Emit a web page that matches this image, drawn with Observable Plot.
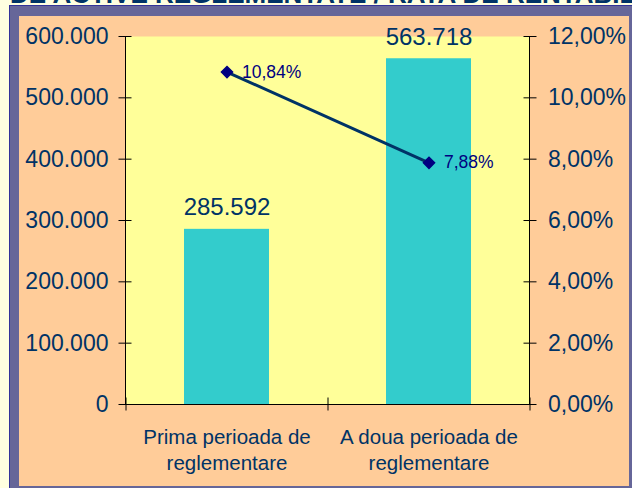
<!DOCTYPE html>
<html><head><meta charset="utf-8">
<script src="https://cdn.jsdelivr.net/npm/d3@7"></script>
<script src="https://cdn.jsdelivr.net/npm/@observablehq/plot@0.6"></script>
<style>
html,body{margin:0;padding:0;background:#FFFFE0;width:632px;height:488px;overflow:hidden;font-family:"Liberation Sans",Arial,sans-serif;}
#title{position:absolute;left:10px;top:-19px;font-size:26px;line-height:26px;font-weight:bold;color:#003366;white-space:nowrap;}
#frame{position:absolute;left:9px;top:5px;width:623px;height:483px;box-sizing:border-box;background:#666699;border-left:1px solid #333399;border-top:1px solid #333399;}
#chart{position:absolute;left:9px;top:10px;line-height:0;}
</style></head><body>
<div id="title">DE ACTIVE REGLEMENTATE / RATA DE RENTABILITATE</div>
<div id="frame"><div id="chart"></div></div>
<script>
const categories = ["Prima perioada de\nreglementare", "A doua perioada de\nreglementare"];
const assetValues = [285592, 563718];
const returnRates = [10.84, 7.88];
const leftTicks = [0, 100000, 200000, 300000, 400000, 500000, 600000];
const rightTicks = [0, 2, 4, 6, 8, 10, 12];
const leftMax = 600000, rightMax = 12;
const K = leftMax / rightMax;

const loc = d3.formatLocale({decimal: ",", thousands: ".", grouping: [3], currency: ["", ""]});
const fmtNum = loc.format(",");
const fmtPct = p => loc.format(".2f")(p) + "%";
const data = categories.map((c, i) => ({cat: c, value: assetValues[i], rate: returnRates[i]}));

const W = 610, H = 470, ML = 106, MR = 100, MT = 20, MB = 82;
const halfStep = (W - ML - MR) / categories.length / 2;
const navy = "#003366";

const chart = Plot.plot({
  width: W, height: H,
  marginLeft: ML, marginRight: MR, marginTop: MT, marginBottom: MB,
  style: {background: "#FFCC99", fontFamily: "'Liberation Sans', Arial, sans-serif", overflow: "visible"},
  x: {type: "band", domain: categories, paddingInner: 0.58, paddingOuter: 0.29, label: null},
  y: {domain: [0, leftMax], label: null},
  marks: [
    Plot.frame({fill: "#FFFF99", stroke: "none"}),
    Plot.barY(data, {x: "cat", y: "value", fill: "#33CCCC"}),
    Plot.text(data, {x: "cat", y: "value", text: d => fmtNum(d.value), lineAnchor: "bottom", dy: -14, fontSize: 24, fill: navy}),
    Plot.ruleY([0], {stroke: "black"}),
    Plot.frame({anchor: "left", stroke: "black"}),
    Plot.frame({anchor: "right", stroke: "black"}),
    Plot.line(data, {x: "cat", y: d => d.rate * K, stroke: navy, strokeWidth: 3}),
    Plot.dot(data, {x: "cat", y: d => d.rate * K, symbol: "diamond2", r: 5, fill: "#000080", stroke: "#000080"}),
    Plot.text(data, {x: "cat", y: d => d.rate * K, text: d => fmtPct(d.rate), textAnchor: "start", dx: 15, fontSize: 17.5, fill: "#000080"}),
    Plot.axisY(leftTicks, {anchor: "left", tickSize: 13, dx: 6.5, tickPadding: 10.5, tickFormat: fmtNum, fontSize: 23, stroke: "black", fill: navy}),
    Plot.axisY(rightTicks.map(p => p * K), {anchor: "right", tickSize: 13, dx: -6.5, tickPadding: 12, tickFormat: v => fmtPct(v / K), fontSize: 23, stroke: "black", fill: navy}),
    Plot.axisX(categories, {anchor: "bottom", tickSize: 13, dy: -6.5, dx: halfStep, stroke: "black", fill: "none"}),
    Plot.axisX([categories[0]], {anchor: "bottom", tickSize: 13, dy: -6.5, dx: -halfStep, stroke: "black", fill: "none"}),
    Plot.axisX(categories, {anchor: "bottom", tickSize: 0, tickPadding: 21, fontSize: 20.5, lineHeight: 1.27, fill: navy, stroke: "none"})
  ]
});
document.getElementById("chart").appendChild(chart);
</script>
</body></html>
